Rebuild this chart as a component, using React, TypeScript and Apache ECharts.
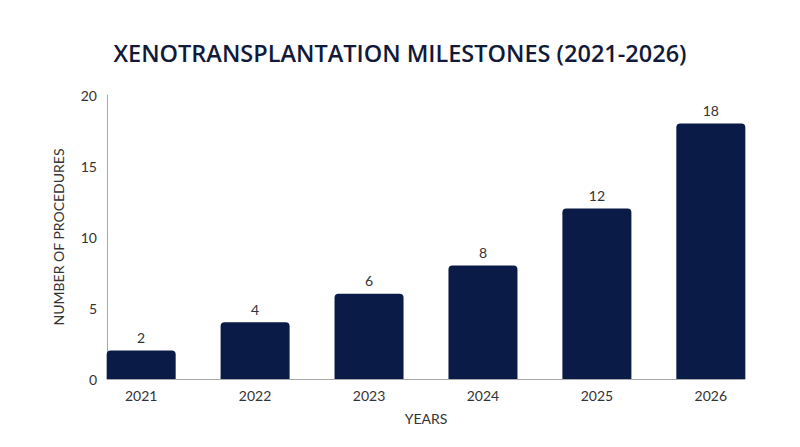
import React, { useEffect, useRef } from 'react';
import * as echarts from 'echarts';

// dados do gráfico
const years = ['2021', '2022', '2023', '2024', '2025', '2026'];
const procedures = [2, 4, 6, 8, 12, 18];
const yTicks = [0, 5, 10, 15, 20];

const NAVY = '#0b1b47';
const TEXT = '#333333';
const FONT = 'Lato, "Open Sans", sans-serif';

const App: React.FC = () => {
  const chartRef = useRef<HTMLDivElement>(null);

  useEffect(() => {
    if (!chartRef.current) return;
    const chart = echarts.init(chartRef.current, undefined, { renderer: 'svg' });

    const option = {
      animation: false,
      title: {
        text: 'XENOTRANSPLANTATION MILESTONES (2021-2026)',
        left: 'center',
        top: 36,
        textStyle: { fontFamily: '"Open Sans", sans-serif', fontSize: 23.5, fontWeight: 600, color: '#121a3a' },
      },
      grid: { left: 107, right: 55, top: 95, bottom: 68 },
      xAxis: {
        type: 'value',
        min: -0.3,
        max: 5.3,
        minInterval: 1,
        maxInterval: 1,
        name: 'YEARS',
        nameLocation: 'middle',
        nameGap: 32,
        nameTextStyle: { fontFamily: FONT, fontSize: 14, color: TEXT },
        axisLine: { show: true, onZero: false, lineStyle: { color: '#aaaaaa', width: 1 } },
        axisTick: { show: false },
        splitLine: { show: false },
        axisLabel: {
          margin: 9,
          fontFamily: FONT,
          fontSize: 14,
          color: TEXT,
          formatter: (v: number) => (Number.isInteger(v) && years[v] ? years[v] : ''),
        },
      },
      yAxis: {
        type: 'value',
        min: yTicks[0],
        max: yTicks[yTicks.length - 1],
        interval: yTicks[1] - yTicks[0],
        name: 'NUMBER OF PROCEDURES',
        nameLocation: 'middle',
        nameGap: 42,
        nameRotate: 90,
        nameTextStyle: { fontFamily: FONT, fontSize: 14, color: TEXT },
        axisLine: { show: true, onZero: false, lineStyle: { color: '#aaaaaa', width: 1 } },
        axisTick: { show: false },
        splitLine: { show: false },
        axisLabel: { margin: 10, fontFamily: FONT, fontSize: 14, color: TEXT },
      },
      series: [
        {
          type: 'bar',
          data: procedures.map((v, i) => [i, v]),
          barWidth: 69,
          itemStyle: { color: NAVY, borderRadius: [4, 4, 0, 0] },
          label: {
            show: true,
            position: 'top',
            distance: 6,
            fontFamily: FONT,
            fontSize: 14,
            color: TEXT,
            formatter: (p: any) => String(p.value[1]),
          },
        },
      ],
    };

    chart.setOption(option);
    return () => {
      chart.dispose();
    };
  }, []);

  return (
    <div
      ref={chartRef}
      style={{ position: 'absolute', left: 0, top: 0, width: '800px', height: '447px' }}
    />
  );
};

export default App;
